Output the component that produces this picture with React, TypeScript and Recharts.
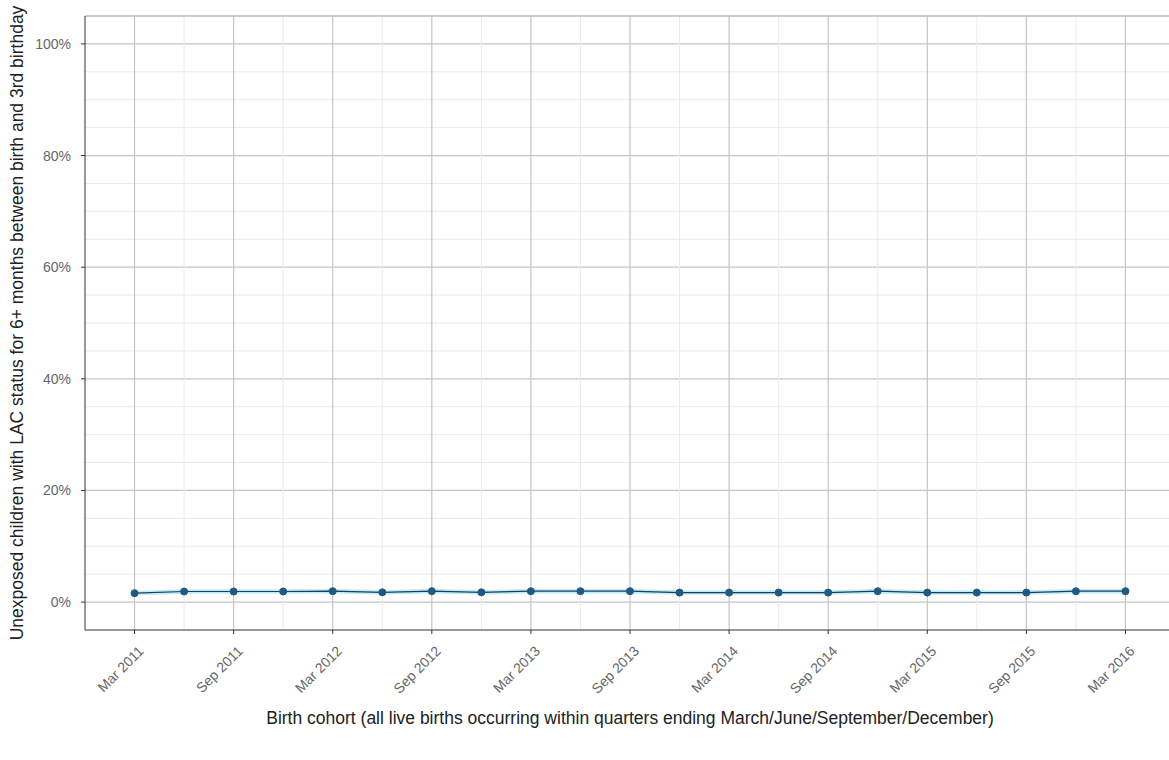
import React from "react";
import {
  ComposedChart,
  Line,
  Area,
  XAxis,
  YAxis,
  ReferenceLine,
} from "recharts";

// birth cohorts, quarter ending
const quarters = [
  "Mar 2011", "Jun 2011", "Sep 2011", "Dec 2011",
  "Mar 2012", "Jun 2012", "Sep 2012", "Dec 2012",
  "Mar 2013", "Jun 2013", "Sep 2013", "Dec 2013",
  "Mar 2014", "Jun 2014", "Sep 2014", "Dec 2014",
  "Mar 2015", "Jun 2015", "Sep 2015", "Dec 2015",
  "Mar 2016",
];

// % unexposed children with LAC status 6+ months
const rate = [
  1.6, 1.9, 1.9, 1.9, 1.95, 1.75, 1.95, 1.75, 1.95, 1.95, 1.95,
  1.7, 1.7, 1.7, 1.7, 1.95, 1.7, 1.7, 1.7, 1.95, 1.95,
];
const lower = [
  1.2, 1.5, 1.5, 1.5, 1.55, 1.35, 1.55, 1.35, 1.55, 1.55, 1.55,
  1.3, 1.3, 1.3, 1.3, 1.55, 1.3, 1.3, 1.3, 1.55, 1.55,
];
const upper = [
  2.0, 2.3, 2.3, 2.3, 2.35, 2.15, 2.35, 2.15, 2.35, 2.35, 2.35,
  2.1, 2.1, 2.1, 2.1, 2.35, 2.1, 2.1, 2.1, 2.35, 2.35,
];

const yTicks = [0, 20, 40, 60, 80, 100];
const yGrid = [0, 5, 10, 15, 20, 25, 30, 35, 40, 45, 50, 55, 60, 65, 70, 75, 80, 85, 90, 95, 100];
const xTicks = [0, 2, 4, 6, 8, 10, 12, 14, 16, 18, 20];

const data = quarters.map((q, i) => ({
  i,
  q,
  rate: rate[i],
  band: [lower[i], upper[i]],
}));

const FONT = '"Liberation Sans", Arial, sans-serif';

const XTick = ({ x, y, payload }: any) => (
  <text
    transform={`translate(${x + 10},${y + 16}) rotate(-45)`}
    textAnchor="end"
    fontSize={14}
    fill="#666"
    fontFamily={FONT}
  >
    {quarters[payload.value]}
  </text>
);

export default function App() {
  return (
    <div
      style={{
        position: "absolute",
        left: 0,
        top: 0,
        width: 1169,
        height: 760,
        overflow: "hidden",
        background: "#fff",
      }}
    >
      <ComposedChart
        width={1175}
        height={760}
        data={data}
        margin={{ top: 16, right: 0, bottom: 0, left: 0 }}
      >
        {/* grid */}
        {yGrid.map((v) => (
          <ReferenceLine
            key={"y" + v}
            y={v}
            stroke={v % 20 === 0 ? "#c4c4c4" : "#ebebeb"}
            strokeWidth={v % 20 === 0 ? 1.2 : 1}
          />
        ))}
        {quarters.map((_, i) => (
          <ReferenceLine
            key={"x" + i}
            x={i}
            stroke={i % 2 === 0 ? "#c4c4c4" : "#ebebeb"}
            strokeWidth={i % 2 === 0 ? 1.2 : 1}
          />
        ))}
        <ReferenceLine y={105} stroke="#bdbdbd" strokeWidth={1.5} />

        <XAxis
          dataKey="i"
          type="number"
          domain={[-1, 21]}
          ticks={xTicks}
          interval={0}
          height={130}
          stroke="#333"
          tickLine={{ stroke: "#333" }}
          tickSize={4}
          tick={<XTick />}
          label={(p: any) => {
            const vb = p.viewBox;
            return (
              <text
                x={vb.x + vb.width / 2}
                y={724}
                textAnchor="middle"
                fontSize={17.5}
                fill="#222"
                fontFamily={FONT}
              >
                Birth cohort (all live births occurring within quarters ending March/June/September/December)
              </text>
            );
          }}
        />
        <YAxis
          type="number"
          domain={[-5, 105]}
          ticks={yTicks}
          interval={0}
          width={85}
          stroke="#333"
          tickLine={{ stroke: "#333" }}
          tickSize={4}
          tickFormatter={(v: number) => `${v}%`}
          tick={{ fontSize: 14, fill: "#666", fontFamily: FONT, dx: -8 }}
          label={(p: any) => {
            const vb = p.viewBox;
            const cy = vb.y + vb.height / 2;
            return (
              <text
                x={23}
                y={cy}
                textAnchor="middle"
                transform={`rotate(-90, 23, ${cy})`}
                fontSize={17.5}
                fill="#222"
                fontFamily={FONT}
              >
                Unexposed children with LAC status for 6+ months between birth and 3rd birthday
              </text>
            );
          }}
        />

        <Area
          dataKey="band"
          type="linear"
          stroke="none"
          fill="#b9e8f6"
          fillOpacity={0.9}
          isAnimationActive={false}
        />
        <Line
          dataKey="rate"
          type="linear"
          stroke="#1c3f5a"
          strokeWidth={1.2}
          dot={{ r: 3.5, fill: "#1f5a80", stroke: "#1f5a80", strokeWidth: 1 }}
          isAnimationActive={false}
        />
      </ComposedChart>
    </div>
  );
}
